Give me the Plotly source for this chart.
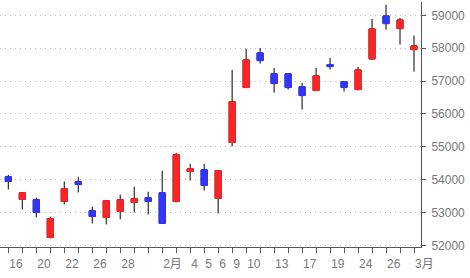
import plotly.graph_objects as go

# Trading days (Jan 16 2026 - Mar 2 2026); label shown only where the reference shows one
day_labels = ["16", "", "20", "", "22", "", "26", "", "28", "", "", "2月", "", "4", "5", "6",
              "9", "10", "", "13", "", "17", "", "19", "", "24", "", "26", "", "3月"]

opens = [54088, 53397, 53388, 52242, 53337, 53936, 53054, 52850, 53033, 53306,
         53449, 53601, 53337, 54249, 54300, 53428, 55130, 56802, 57857, 57219,
         57219, 56824, 56711, 57501, 56985, 56741, 57675, 58982, 58596, 57957]
highs = [54148, 53610, 53449, 52872, 53945, 54088, 53176, 53370, 53540, 53784,
         53632, 54270, 54817, 54483, 54483, 54280, 57340, 57979, 58009, 57401,
         57230, 56945, 57401, 57705, 56995, 57432, 58891, 59316, 58921, 58383]
lows = [53701, 53093, 52850, 52212, 53245, 53610, 52668, 52637, 52789, 53002,
        52941, 52655, 53306, 53975, 53671, 52972, 55009, 56790, 57532, 56650,
        56741, 56133, 56700, 57349, 56681, 56711, 57644, 58565, 58109, 57289]
closes = [53945, 53601, 53002, 52811, 53723, 53853, 52881, 53358, 53388, 53419,
          53337, 52668, 54756, 54331, 53823, 54270, 56368, 57644, 57623, 56924,
          56802, 56559, 57158, 57441, 56802, 57340, 58587, 58748, 58860, 58070]

y_ticks = [52000, 53000, 54000, 55000, 56000, 57000, 58000, 59000]

UP = "#FF2424"
DOWN = "#3434FF"

xs = list(range(len(day_labels)))
body_hi = [max(o, c) for o, c in zip(opens, closes)]
body_lo = [min(o, c) for o, c in zip(opens, closes)]

fig = go.Figure()
# wicks (black)
fig.add_trace(go.Candlestick(
    x=xs, open=opens, high=highs, low=lows, close=closes,
    increasing=dict(line=dict(color="#000000", width=1), fillcolor="#000000"),
    decreasing=dict(line=dict(color="#000000", width=1), fillcolor="#000000"),
    hoverinfo="skip", showlegend=False, whiskerwidth=0,
))
# coloured bodies
fig.add_trace(go.Candlestick(
    x=xs, open=opens, high=body_hi, low=body_lo, close=closes,
    increasing=dict(line=dict(color=UP, width=1), fillcolor=UP),
    decreasing=dict(line=dict(color=DOWN, width=1), fillcolor=DOWN),
    hoverinfo="skip", showlegend=False, whiskerwidth=0,
))

font_family = "Liberation Sans, Arial, Noto Sans CJK JP, sans-serif"

fig.update_layout(
    width=470, height=278,
    margin=dict(l=0, r=49, t=2, b=31),
    paper_bgcolor="white", plot_bgcolor="white",
    showlegend=False,
    boxgap=0.38,
    font=dict(family=font_family, size=12, color="#777777"),
    xaxis=dict(
        range=[-0.593, 29.5],
        rangeslider=dict(visible=False),
        tickmode="array", tickvals=xs, ticktext=day_labels,
        tickangle=0,
        ticks="outside", ticklen=5, tickcolor="#555555", tickwidth=1,
        ticklabelposition="outside right",
        ticklabelstandoff=6,
        showline=True, linecolor="#555555", linewidth=1,
        showgrid=False, zeroline=False,
        tickfont=dict(family=font_family, size=12, color="#777777"),
    ),
    yaxis=dict(
        side="right",
        range=[51950, 59406],
        tickmode="array", tickvals=y_ticks,
        ticktext=[str(v) for v in y_ticks],
        ticks="outside", ticklen=4, tickcolor="#555555",
        ticklabelstandoff=3,
        showline=True, linecolor="#555555", linewidth=1,
        showgrid=True, gridcolor="#BBBBBB", griddash="1px,4px", gridwidth=1,
        zeroline=False,
        tickfont=dict(family=font_family, size=12, color="#777777"),
    ),
)

fig.write_html("out.html")
